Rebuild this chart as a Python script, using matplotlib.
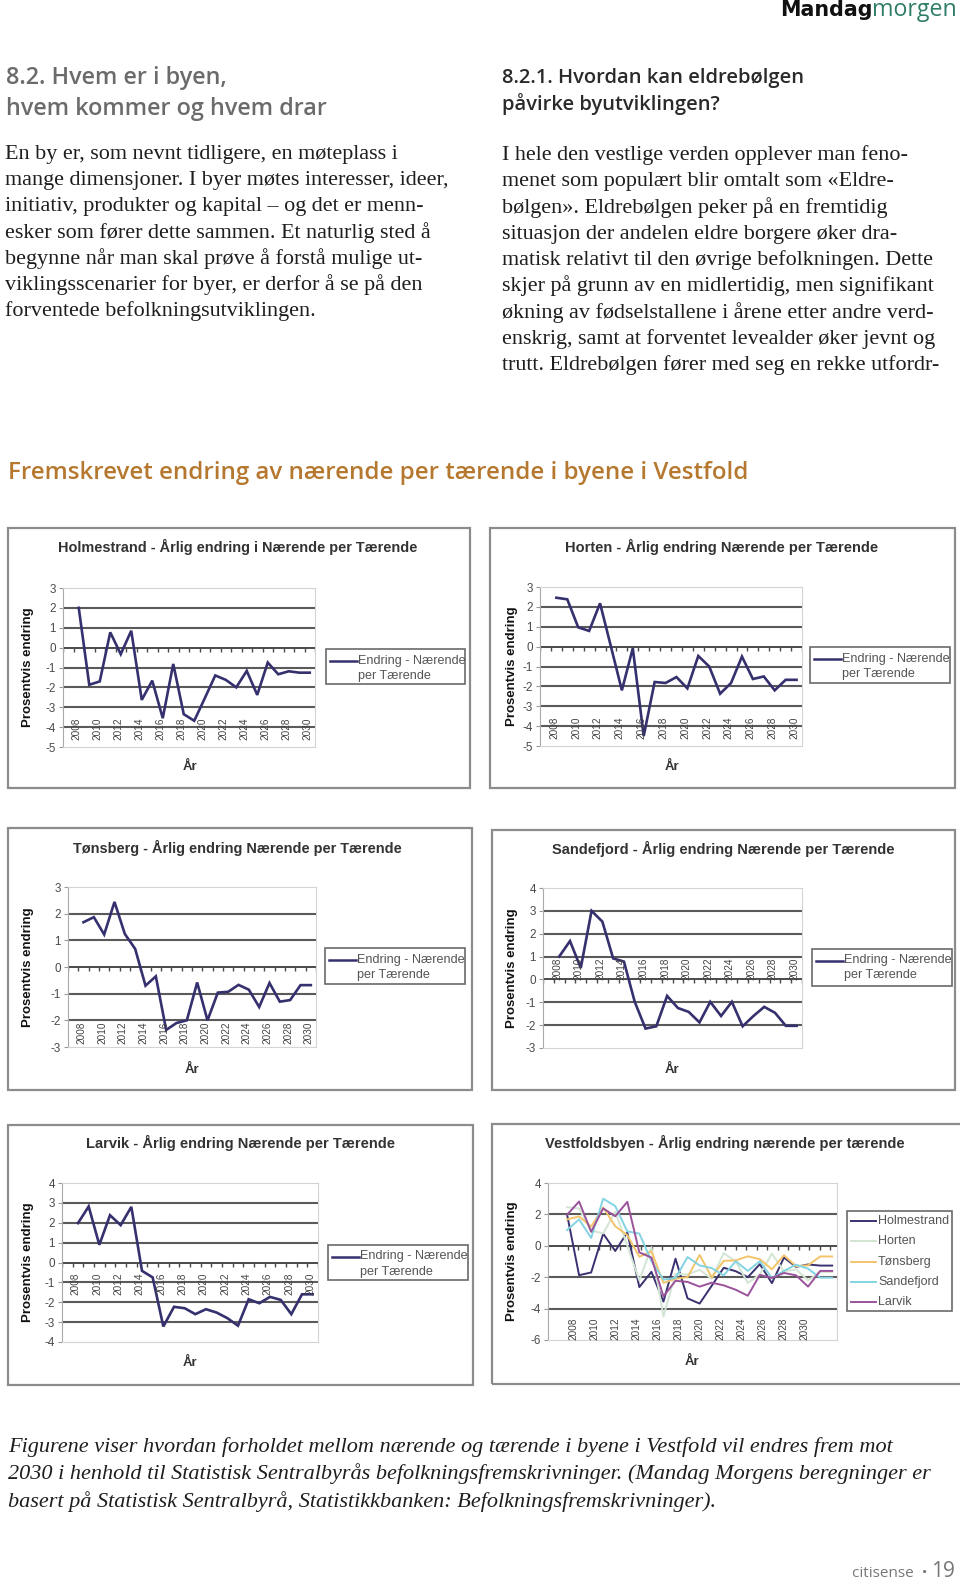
import matplotlib
matplotlib.use('Agg')
import matplotlib.pyplot as plt
from matplotlib.patches import Rectangle
from matplotlib.lines import Line2D
import matplotlib.transforms as mtransforms

# ---------------- data ----------------
years = list(range(2008, 2031))
tick_years = list(range(2008, 2031, 2))
holmestrand = [2.0, -1.87, -1.7, 0.77, -0.33, 0.85, -2.63, -1.66, -3.55, -0.82, -3.35, -3.68,
               -2.55, -1.4, -1.62, -2.0, -1.17, -2.38, -0.75, -1.34, -1.19, -1.26, -1.26]
horten = [2.46, 2.38, 0.97, 0.79, 2.18, 0.0, -2.2, -0.08, -4.5, -1.78, -1.83, -1.53,
          -2.1, -0.47, -1.0, -2.37, -1.83, -0.5, -1.63, -1.5, -2.2, -1.67, -1.67]
tonsberg = [1.68, 1.87, 1.22, 2.44, 1.24, 0.68, -0.70, -0.35, -2.36, -2.1, -2.0, -0.58,
            -2.0, -0.96, -0.93, -0.67, -0.85, -1.5, -0.6, -1.3, -1.24, -0.68, -0.68]
sandefjord = [1.0, 1.68, 0.5, 3.0, 2.53, 0.92, 0.78, -0.98, -2.15, -2.05, -0.72, -1.25,
              -1.42, -1.88, -0.98, -1.6, -0.98, -2.05, -1.6, -1.2, -1.46, -2.03, -2.03]
larvik = [1.98, 2.82, 0.89, 2.38, 1.88, 2.8, -0.42, -0.75, -3.22, -2.23, -2.3, -2.6,
          -2.35, -2.52, -2.8, -3.18, -1.85, -2.05, -1.73, -1.88, -2.6, -1.6, -1.6]
city_names = ["Holmestrand", "Horten", "Tønsberg", "Sandefjord", "Larvik"]
city_series = [holmestrand, horten, tonsberg, sandefjord, larvik]
city_colors = ["#3a3270", "#d3e5d3", "#f3c46a", "#84d3e3", "#9a529a"]

left_heading = ["8.2. Hvem er i byen,", "hvem kommer og hvem drar"]
left_lines = ["En by er, som nevnt tidligere, en møteplass i",
              "mange dimensjoner. I byer møtes interesser, ideer,",
              "initiativ, produkter og kapital – og det er menn-",
              "esker som fører dette sammen. Et naturlig sted å",
              "begynne når man skal prøve å forstå mulige ut-",
              "viklingsscenarier for byer, er derfor å se på den",
              "forventede befolkningsutviklingen."]
right_heading = ["8.2.1. Hvordan kan eldrebølgen", "påvirke byutviklingen?"]
right_lines = ["I hele den vestlige verden opplever man feno-",
               "menet som populært blir omtalt som «Eldre-",
               "bølgen». Eldrebølgen peker på en fremtidig",
               "situasjon der andelen eldre borgere øker dra-",
               "matisk relativt til den øvrige befolkningen. Dette",
               "skjer på grunn av en midlertidig, men signifikant",
               "økning av fødselstallene i årene etter andre verd-",
               "enskrig, samt at forventet levealder øker jevnt og",
               "trutt. Eldrebølgen fører med seg en rekke utfordr-"]
section_title = "Fremskrevet endring av nærende per tærende i byene i Vestfold"
caption_lines = ["Figurene viser hvordan forholdet mellom nærende og tærende i byene i Vestfold vil endres frem mot",
                 "2030 i henhold til Statistisk Sentralbyrås befolkningsfremskrivninger. (Mandag Morgens beregninger er",
                 "basert på Statistisk Sentralbyrå, Statistikkbanken: Befolkningsfremskrivninger)."]

# ---------------- page ----------------
W, H = 960, 1584
fig = plt.figure(figsize=(9.6, 15.84), dpi=100)
fig.patch.set_facecolor('white')
R = fig.canvas.get_renderer()

def fx(x):
    return x / W

def fy(y):
    return 1 - y / H

def ftext(x, y, s, **kw):
    return fig.text(fx(x), fy(y), s, **kw)

def width_of(s, size, **kw):
    t = fig.text(0, 0, s, fontsize=size, **kw)
    w = t.get_window_extent(R).width
    t.remove()
    return w

def fit(s, target, **kw):
    return 12 * target / width_of(s, 12, **kw)

LINE = "#35306e"
SANS = "Liberation Sans"

# header logo
mm_kw = dict(family="Open Sans")
s_m = fit("morgen", 84, **mm_kw)
tm = ftext(957, 16, "morgen", fontsize=s_m, color="#2f7d68", ha="right", va="baseline", **mm_kw)
bb = tm.get_window_extent(R)
s_M = fit("Mandag", 92, family="DejaVu Sans", weight="heavy")
fig.text(bb.x0 / W, fy(16), "Mandag", fontsize=s_M, color="#111111", ha="right", va="baseline",
         family="DejaVu Sans", weight="heavy")

# headings
hk = dict(family="Open Sans", weight="semibold")
s_lh = fit(left_heading[1], 322, **hk)
ftext(6, 84, left_heading[0], fontsize=s_lh, color="#6b6b6b", va="baseline", **hk)
ftext(6, 115, left_heading[1], fontsize=s_lh, color="#6b6b6b", va="baseline", **hk)
s_rh = fit(right_heading[0], 303, **hk)
ftext(502, 83, right_heading[0], fontsize=s_rh, color="#2a2a2a", va="baseline", **hk)
ftext(502, 110, right_heading[1], fontsize=s_rh, color="#2a2a2a", va="baseline", **hk)

# body text
bk = dict(family="Liberation Serif")
s_body = fit(left_lines[1], 443, **bk)
for i, ln in enumerate(left_lines):
    ftext(5, 159 + 26.2 * i, ln, fontsize=s_body, color="#1e1e1e", va="baseline", **bk)
for i, ln in enumerate(right_lines):
    ftext(502, 160 + 26.3 * i, ln, fontsize=s_body, color="#1e1e1e", va="baseline", **bk)

# section heading
sk = dict(family="Open Sans", weight="semibold")
s_sec = fit(section_title, 740, **sk)
ftext(8, 479, section_title, fontsize=s_sec, color="#b5782e", va="baseline", **sk)

# caption
ck = dict(family="Liberation Serif", style="italic")
s_cap = fit(caption_lines[1], 927, **ck)
for i, ln in enumerate(caption_lines):
    ftext(8, 1452 + 27.5 * i, ln, fontsize=s_cap, color="#1e1e1e", va="baseline", **ck)

# footer
t19 = ftext(955, 1577, "19", fontsize=15, color="#777777", ha="right", va="baseline", family="Open Sans")
b19 = t19.get_window_extent(R)
fig.text((b19.x0 - 4) / W, fy(1577), "citisense  •", fontsize=11, color="#777777", ha="right",
         va="baseline", family="Open Sans")

# ---------------- charts ----------------
def add_box(x0, y0, x1, y1, ec="#8c8c8c", lw=1.6):
    fig.add_artist(Rectangle((fx(x0), fy(y1)), (x1 - x0) / W, (y1 - y0) / H,
                             transform=fig.transFigure, fill=False, ec=ec, lw=lw))

def make_axes(l, t, r, b):
    ax = fig.add_axes([fx(l), fy(b), (r - l) / W, (b - t) / H])
    ax.set_facecolor("white")
    for sp in ax.spines.values():
        sp.set_color("#d4d4d4")
        sp.set_linewidth(0.8)
    ax.spines["left"].set_color("#aaaaaa")
    return ax

def style_y(ax, ylim, step=1):
    lo, hi = ylim
    ax.set_ylim(lo, hi)
    ticks = list(range(lo, hi + 1, step))
    ax.set_yticks(ticks)
    ax.set_yticklabels([str(v) for v in ticks])
    ax.tick_params(axis="y", labelsize=8.4, labelcolor="#4a4a4a", color="#999999", length=3, width=0.8,
                   pad=2)
    for lab in ax.get_yticklabels():
        lab.set_family(SANS)
    for v in ticks:
        if lo < v < hi and v != 0:
            ax.axhline(v, color="#5a5a5a", lw=1.5, zorder=1)
    ax.axhline(0, color="#4a4a4a", lw=1.4, zorder=1)

def chart_texts(title, title_xy, title_w, ylab_x, plot_tb, ar_xy):
    ts = fit(title, title_w, family=SANS, weight="bold")
    ftext(title_xy[0], title_xy[1], title, fontsize=ts, weight="bold", color="#333333",
          ha="center", va="center", family=SANS)
    ftext(ylab_x, (plot_tb[0] + plot_tb[1]) / 2, "Prosentvis endring", fontsize=9.5, weight="bold",
          rotation=90, ha="center", va="center", family=SANS, color="#111111")
    ftext(ar_xy[0], ar_xy[1], "År", fontsize=9.5, weight="bold", ha="center", va="center",
          family=SANS, color="#333333")

leg_size = fit("Endring - Nærende", 108, family=SANS)

def single_legend(x0, y0, x1, y1):
    add_box(x0, y0, x1, y1, ec="#6a6a6a", lw=1.2)
    ly = y0 + 11.5
    fig.add_artist(Line2D([fx(x0 + 4), fx(x0 + 31)], [fy(ly), fy(ly)], transform=fig.transFigure,
                          color=LINE, lw=1.8))
    ftext(x0 + 32, ly, "Endring - Nærende", fontsize=leg_size, color="#555555", va="center", family=SANS)
    ftext(x0 + 32, ly + 15, "per Tærende", fontsize=leg_size, color="#555555", va="center", family=SANS)

def single_chart(series, title, box, title_xy, title_w, plot, ylim, label_top, ylab_x, ar_xy, leg):
    add_box(*box)
    l, t, r, b = plot
    ax = make_axes(l, t, r, b)
    style_y(ax, ylim)
    ax.set_xlim(2006.5, 2030.5)
    ax.set_xticks([])
    ax.plot(years, series, color=LINE, lw=1.9, zorder=3, solid_joinstyle="miter")
    bounds = [y + 0.5 for y in range(2006, 2031)]
    ax.plot(bounds, [0] * len(bounds), ls="none", marker=3, ms=3, mew=1, color="#4a4a4a", zorder=2)
    for yr in tick_years:
        ax.text(yr - 0.2, label_top, str(yr), rotation=90, ha="center", va="top", fontsize=7.2,
                color="#444444", family=SANS, zorder=4)
    chart_texts(title, title_xy, title_w, ylab_x, (t, b), ar_xy)
    single_legend(*leg)
    return ax

single_chart(holmestrand, "Holmestrand - Årlig endring i Nærende per Tærende", (8, 528, 470, 788),
             (238, 547), 358, (63, 588, 315, 747), (-5, 3), -3.5, 28, (190, 767), (326, 649, 465, 684))
single_chart(horten, "Horten - Årlig endring Nærende per Tærende", (490, 528, 955, 788),
             (722, 547), 310, (540, 587, 802, 746), (-5, 3), -3.5, 512, (672, 767), (810, 647, 950, 683))
single_chart(tonsberg, "Tønsberg - Årlig endring Nærende per Tærende", (8, 828, 472, 1090),
             (237, 848), 327, (68, 887, 316, 1047), (-3, 3), -2.05, 28, (192, 1070), (325, 948, 465, 984))
single_chart(sandefjord, "Sandefjord - Årlig endring Nærende per Tærende", (492, 830, 955, 1090),
             (723, 849), 338, (543, 888, 802, 1048), (-3, 4), 0.95, 512, (672, 1070), (812, 949, 952, 986))
single_chart(larvik, "Larvik - Årlig endring Nærende per Tærende", (8, 1125, 473, 1385),
             (240, 1143), 305, (62, 1183, 318, 1342), (-4, 4), -0.5, 28, (190, 1363), (328, 1245, 468, 1280))

# combined chart
add_box(492, 1124, 962, 1384)
cl, ct, cr, cb = 548, 1183, 837, 1340
ax = make_axes(cl, ct, cr, cb)
style_y(ax, (-6, 4), step=2)
idx = list(range(len(years)))
ax.set_xlim(-1.58, 22.4)
ax.set_xticks([])
for ser, col in zip(city_series, city_colors):
    ax.plot(idx, ser, color=col, lw=1.4, zorder=3)
trans = mtransforms.blended_transform_factory(ax.transAxes, ax.transData)
pw = cr - cl
lab_step = 10.5  # px per year on the label scale
for yr in tick_years:
    xf = (573 - cl + (yr - 2008) * lab_step) / pw
    ax.text(xf, -4.55, str(yr), rotation=90, ha="center", va="top", fontsize=7.2, color="#444444",
            family=SANS, transform=trans)
k = 0
tick_x = []
while True:
    px = 573 - cl - lab_step / 2 + k * lab_step
    if px > pw:
        break
    tick_x.append(px / pw)
    k += 1
ax.plot(tick_x, [0] * len(tick_x), ls="none", marker=3, ms=3, mew=1, color="#4a4a4a", zorder=2,
        transform=trans)
chart_texts("Vestfoldsbyen - Årlig endring nærende per tærende", (725, 1143), 356, 512, (ct, cb),
            (692, 1362))
add_box(847, 1211, 952, 1311, ec="#6a6a6a", lw=1.2)
cleg = fit("Holmestrand", 71, family=SANS)
for i, (nm, col) in enumerate(zip(city_names, city_colors)):
    yy = 1221 + 20.3 * i
    fig.add_artist(Line2D([fx(851), fx(876)], [fy(yy), fy(yy)], transform=fig.transFigure,
                          color=col, lw=1.4))
    ftext(878, yy, nm, fontsize=cleg, color="#555555", va="center", family=SANS)

fig.savefig("out.png", dpi=100, facecolor="white")
